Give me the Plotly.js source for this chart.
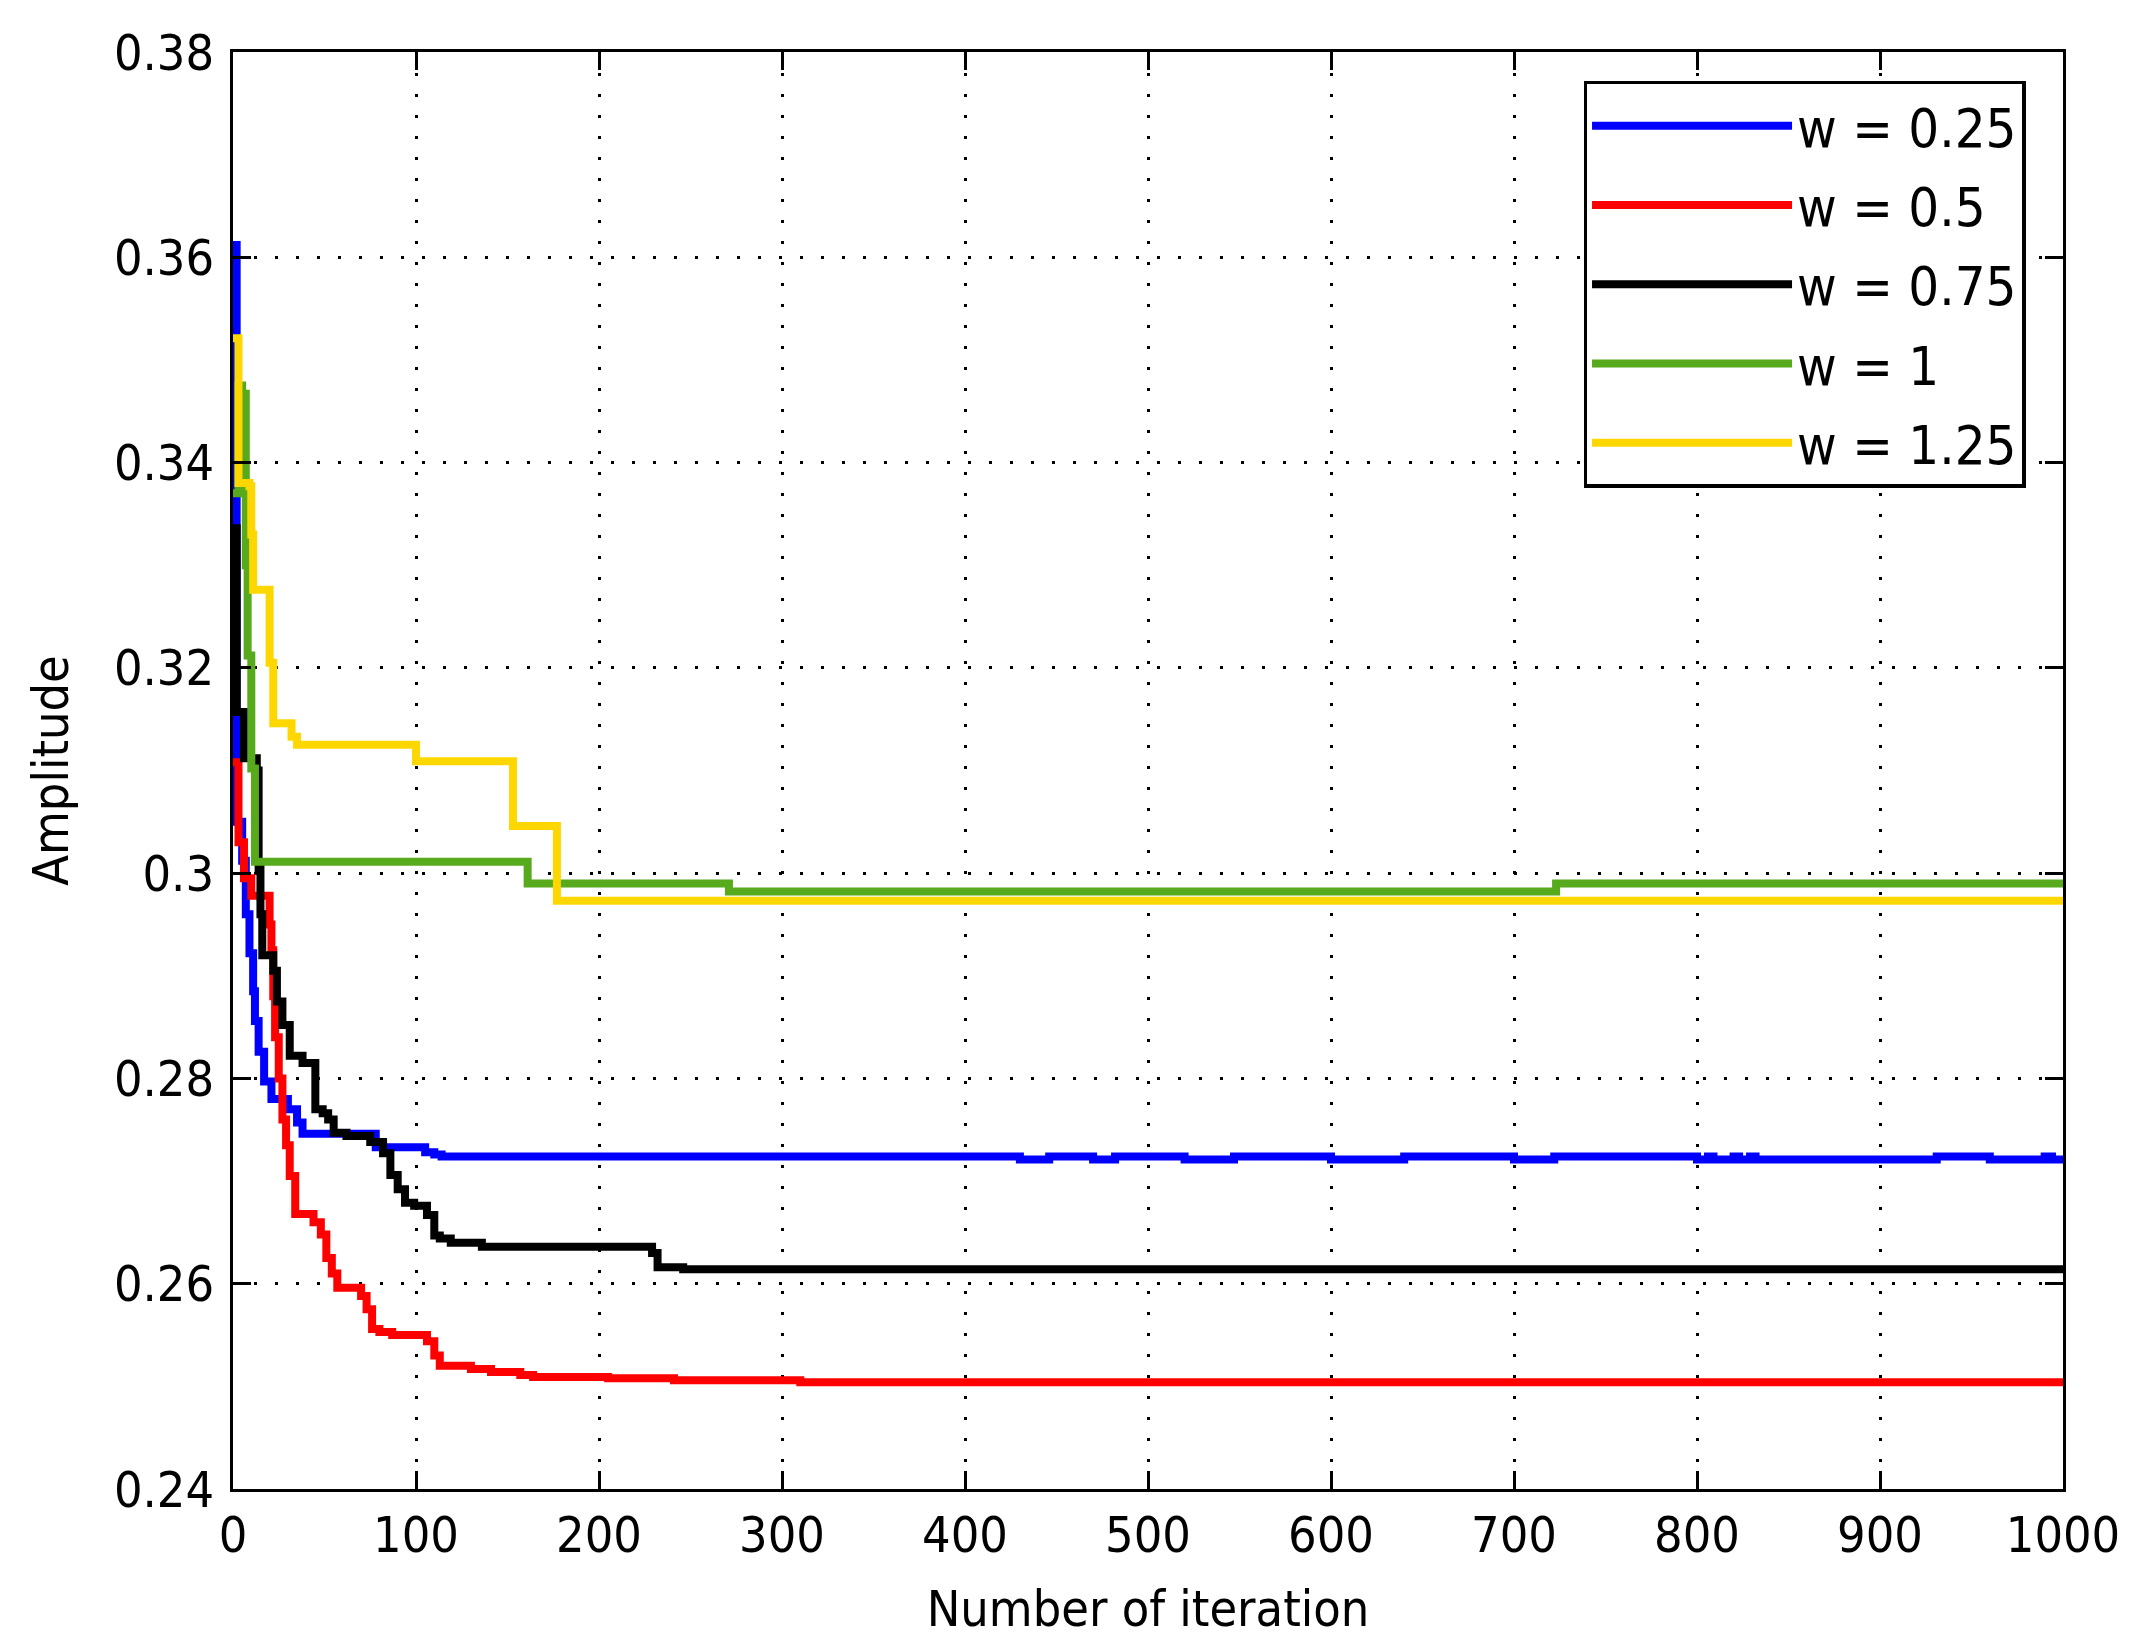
<!DOCTYPE html>
<html>
<head>
<meta charset="utf-8">
<script src="https://cdn.plot.ly/plotly-3.0.1.min.js"></script>
<style>
  html, body { margin: 0; padding: 0; background: #fff; }
  #chart { width: 2134px; height: 1651px; }
</style>
</head>
<body>
<div id="chart"></div>
<script>
// iteration at which the value changes, and the value from there on
const blueX = [0, 2, 5, 7, 9, 11, 12, 14, 17, 21, 30, 35, 38, 78, 83, 105, 110, 114, 430, 446, 470, 482, 520, 547, 600, 640, 700, 722, 800, 806, 809, 820, 823, 829, 832, 931, 960, 990, 994, 1000];
const blueY = [0.3612, 0.3050, 0.3012, 0.2960, 0.2922, 0.2885, 0.2856, 0.2826, 0.2797, 0.2780, 0.2770, 0.2757, 0.2746, 0.2733, 0.2733, 0.2728, 0.2726, 0.2724, 0.2721, 0.2724, 0.2721, 0.2724, 0.2721, 0.2724, 0.2721, 0.2724, 0.2721, 0.2724, 0.2721, 0.2724, 0.2721, 0.2724, 0.2721, 0.2724, 0.2721, 0.2724, 0.2721, 0.2724, 0.2721, 0.2721];

const redX = [0, 3, 6, 10, 20, 21, 22, 23, 25, 27, 29, 31, 34, 44, 48, 51, 54, 57, 70, 73, 76, 80, 87, 106, 110, 113, 130, 141, 157, 164, 205, 241, 310, 1000];
const redY = [0.3108, 0.3030, 0.2995, 0.2978, 0.2950, 0.2925, 0.2880, 0.2840, 0.2800, 0.2760, 0.2735, 0.2705, 0.2668, 0.2660, 0.2648, 0.2625, 0.2610, 0.2596, 0.2588, 0.2575, 0.2556, 0.2553, 0.2550, 0.2544, 0.2530, 0.2520, 0.2517, 0.2514, 0.2511, 0.2509, 0.2508, 0.2506, 0.2504, 0.2504];

const blackX = [0, 2, 6, 13, 14, 15, 16, 22, 24, 27, 31, 38, 45, 49, 52, 55, 62, 75, 82, 86, 90, 94, 99, 106, 110, 113, 119, 136, 229, 232, 246, 1000];
const blackY = [0.3336, 0.3157, 0.3112, 0.3100, 0.3005, 0.2960, 0.2920, 0.2905, 0.2875, 0.2852, 0.2822, 0.2815, 0.2770, 0.2766, 0.2760, 0.2747, 0.2744, 0.2738, 0.2727, 0.2706, 0.2692, 0.2679, 0.2676, 0.2667, 0.2647, 0.2644, 0.2640, 0.2636, 0.2630, 0.2616, 0.2614, 0.2614];

const greenX = [0, 3, 5, 7, 8, 10, 12, 161, 271, 723, 1000];
const greenY = [0.3370, 0.3475, 0.3467, 0.3300, 0.3212, 0.3102, 0.3011, 0.2990, 0.2982, 0.2990, 0.2990];

const yellowX = [0, 3, 9, 10, 11, 20, 22, 32, 35, 100, 153, 177, 1000];
const yellowY = [0.3521, 0.3380, 0.3377, 0.3330, 0.3276, 0.3205, 0.3146, 0.3133, 0.3125, 0.3109, 0.3046, 0.2973, 0.2973];

const seriesNames = ['w = 0.25', 'w = 0.5', 'w = 0.75', 'w = 1', 'w = 1.25'];
const seriesColors = ['#0000ff', '#ff0000', '#000000', '#56aa1c', '#ffd700'];

const xTicks = [0, 100, 200, 300, 400, 500, 600, 700, 800, 900, 1000];
const yTicks = [0.24, 0.26, 0.28, 0.30, 0.32, 0.34, 0.36, 0.38];
const yTickText = ['0.24', '0.26', '0.28', '0.3', '0.32', '0.34', '0.36', '0.38'];

const FONT = '"DejaVu Sans Condensed", "Liberation Sans", Arial, sans-serif';

const xs = [blueX, redX, blackX, greenX, yellowX];
const ys = [blueY, redY, blackY, greenY, yellowY];

// one legend group per trace so tracegroupgap spaces the rows out
const traces = xs.map((x, i) => ({
  type: 'scatter',
  mode: 'lines',
  name: seriesNames[i],
  legendgroup: 'g' + i,
  x: x,
  y: ys[i],
  line: { color: seriesColors[i], width: 8, shape: 'hv' }
}));

const axisBase = {
  showline: true,
  linecolor: '#000',
  linewidth: 3,
  mirror: 'ticks',
  ticks: 'inside',
  ticklen: 18,
  tickwidth: 3,
  tickcolor: '#000',
  showgrid: true,
  gridcolor: '#000',
  gridwidth: 3,
  griddash: '3px,18px',
  zeroline: false,
  tickfont: { family: FONT, size: 50, color: '#000' }
};

const layout = {
  width: 2134,
  height: 1651,
  margin: { t: 52, r: 71, b: 162, l: 233 },
  paper_bgcolor: '#fff',
  plot_bgcolor: '#fff',
  font: { family: FONT, size: 50, color: '#000' },
  showlegend: true,
  legend: {
    x: 0.738, y: 0.98,
    xanchor: 'left', yanchor: 'top',
    bgcolor: '#fff',
    bordercolor: '#000',
    borderwidth: 3.5,
    itemwidth: 200,
    tracegroupgap: 6,
    font: { family: FONT, size: 54, color: '#000' }
  },
  xaxis: Object.assign({}, axisBase, {
    range: [0, 1000],
    tickmode: 'array',
    tickvals: xTicks,
    title: { text: 'Number of iteration', font: { family: FONT, size: 50, color: '#000' }, standoff: 28 }
  }),
  yaxis: Object.assign({}, axisBase, {
    range: [0.24, 0.38],
    tickmode: 'array',
    tickvals: yTicks,
    ticktext: yTickText,
    ticklabelstandoff: 6,
    title: { text: 'Amplitude', font: { family: FONT, size: 50, color: '#000' }, standoff: 30 }
  })
};

Plotly.newPlot('chart', traces, layout, { displayModeBar: false, staticPlot: true });
</script>
</body>
</html>
